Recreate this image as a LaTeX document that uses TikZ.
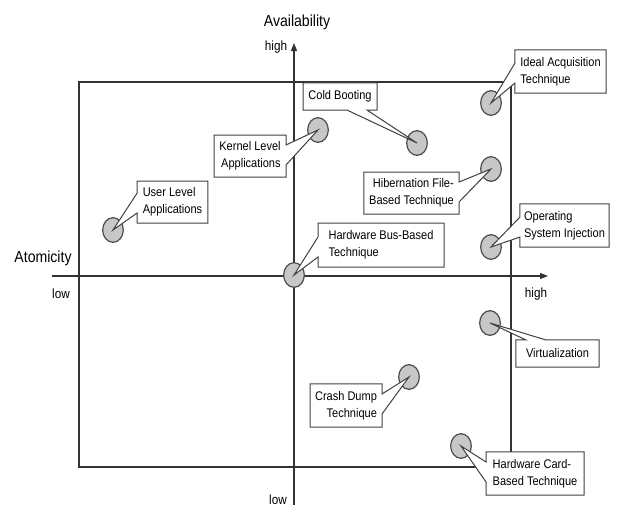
\documentclass[tikz,border=0pt]{standalone}
\usepackage{fontspec}
\setmainfont{Liberation Sans}[FakeStretch=0.88]
\usetikzlibrary{shapes.geometric,shapes.callouts,arrows.meta}

\begin{document}
\begin{tikzpicture}[x=0.75pt,y=-0.75pt,
  dot/.style={ellipse,draw=black!70,fill=black!22,line width=0.9pt,minimum width=15.5pt,minimum height=18.5pt,inner sep=0pt},
  tag/.style={rectangle callout,draw=black!75,fill=white,line width=0.75pt,inner sep=1pt,callout pointer width=15pt,font=\fontsize{9.4}{13}\selectfont},
  axis/.style={draw=black!80,line width=1pt,-{Triangle[length=6pt,width=4.5pt]}},
  lbl/.style={font=\fontsize{10}{12}\selectfont}]

\useasboundingbox (0,0) rectangle (625,518);

\draw[black!80,line width=1pt] (79,82) rectangle (511,467);

\coordinate (x0) at (52,276);
\coordinate (x1) at (548,276);
\coordinate (y0) at (294,505);
\coordinate (y1) at (294,43);
\draw[axis] (x0) -- (x1);
\draw[axis] (y0) -- (y1);

\node[font=\fontsize{12}{14}\selectfont] (avail) at (297,22) {Availability};
\node[font=\fontsize{12}{14}\selectfont] (atom) at (43,258) {Atomicity};
\node[lbl] (yhigh) at (276,47) {high};
\node[lbl] (ylow) at (278,500) {low};
\node[lbl] (xlow) at (61,294) {low};
\node[lbl] (xhigh) at (536,294) {high};

\node[dot] (UL) at (113,230) {};
\node[dot] (KL) at (318,130) {};
\node[dot] (CB) at (417,143) {};
\node[dot] (IA) at (491,103) {};
\node[dot] (HF) at (491,169) {};
\node[dot] (OS) at (491,247) {};
\node[dot] (HB) at (294,275) {};
\node[dot] (VI) at (490,323) {};
\node[dot] (CD) at (409,377) {};
\node[dot] (HC) at (461,446) {};

\node[tag,align=left,minimum width=53pt,minimum height=31.5pt,callout absolute pointer={(UL.center)}] (tUL) at (172.5,202) {User Level\\Applications};
\node[tag,align=right,minimum width=54pt,minimum height=31.5pt,callout absolute pointer={(KL.center)}] (tKL) at (250,156) {Kernel Level\\Applications};
\node[tag,minimum width=55.5pt,minimum height=20.3pt,callout absolute pointer={(CB.center)}] (tCB) at (340,96.5) {Cold Booting};
\node[tag,align=left,minimum width=68.3pt,minimum height=32.3pt,callout absolute pointer={(IA.center)}] (tIA) at (560.5,71.5) {Ideal Acquisition\\Technique};
\node[tag,align=right,minimum width=71.3pt,minimum height=31.5pt,callout absolute pointer={(HF.center)}] (tHF) at (411.5,193) {Hibernation File-\\Based Technique};
\node[tag,align=left,minimum width=66.8pt,minimum height=32.3pt,callout absolute pointer={(OS.center)}] (tOS) at (564.5,225.5) {Operating\\System Injection};
\node[tag,align=left,minimum width=94.5pt,minimum height=33pt,callout absolute pointer={(HB.center)}] (tHB) at (381,245) {Hardware Bus-Based\\Technique};
\node[tag,minimum width=62.3pt,minimum height=20.3pt,callout absolute pointer={(VI.center)}] (tVI) at (557.5,353.5) {Virtualization};
\node[tag,align=right,minimum width=54pt,minimum height=32.3pt,callout absolute pointer={(CD.center)}] (tCD) at (346,405.5) {Crash Dump\\Technique};
\node[tag,align=left,minimum width=73.5pt,minimum height=32.3pt,callout absolute pointer={(HC.center)}] (tHC) at (535,473.5) {Hardware Card-\\Based Technique};

\end{tikzpicture}
\end{document}
